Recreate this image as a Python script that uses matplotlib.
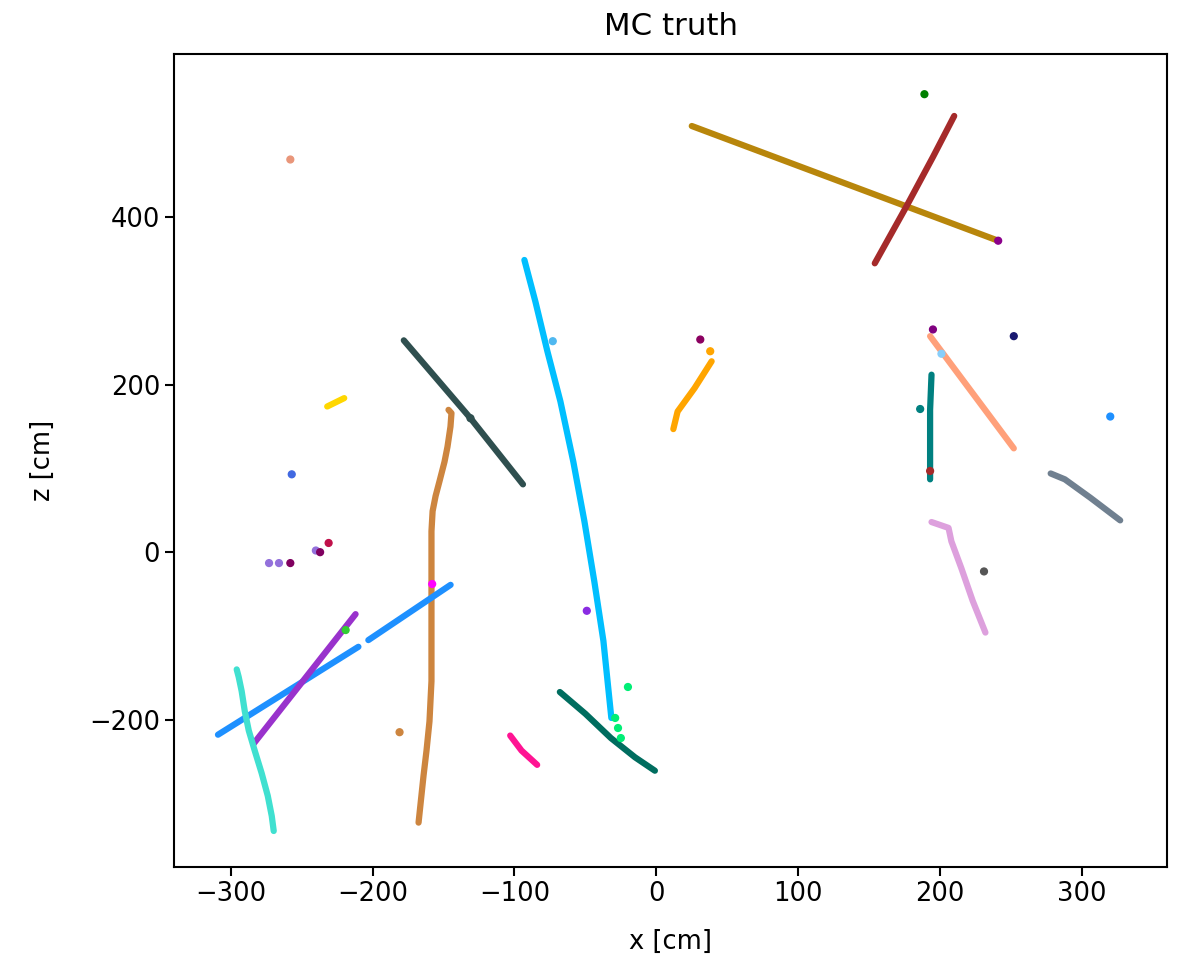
import matplotlib.pyplot as plt

# hit tracks in the x-z plane, one array pair per MC particle
gold_x = [25, 241]
gold_z = [509, 372]
brown_x = [154, 176, 195, 210]
brown_z = [345, 412, 472, 521]
slate_x = [-178, -131, -94]
slate_z = [253, 160, 81]
sky_x = [-93.0, -85.2, -76.8, -67.6, -58.5, -50.7, -43.7, -37.3, -31.7]
sky_z = [349, 299, 240, 180, 108, 37, -35, -106, -198]
peru_x = [-146.5, -144.4, -145.1, -147.2, -149.3, -152.8, -155.6, -157.7,
          -158.5, -158.5, -158.5, -159.9, -162.0, -164.1, -167.6]
peru_z = [170, 166, 150, 126, 108, 85, 67, 49, 25, -58, -154, -202, -237,
          -267, -323]
dodger1_x = [-309, -210]
dodger1_z = [-218, -113]
dodger2_x = [-203, -145]
dodger2_z = [-105, -39]
orchid_x = [-284, -212]
orchid_z = [-229, -74]
turq_x = [-295.8, -294.4, -292.3, -290.1, -287.3, -283.1, -278.2, -273.9,
          -271.1, -269.7]
turq_z = [-140, -149, -166, -190, -213, -237, -264, -291, -315, -333]
pink_x = [-103, -95, -84]
pink_z = [-219, -237, -254]
teal_x = [-68, -50, -32, -15, -1]
teal_z = [-167, -193, -222, -245, -261]
orange_x = [12, 15, 27, 39]
orange_z = [147, 168, 196, 228]
vteal_x = [194, 193, 193, 193]
vteal_z = [212, 170, 120, 87]
salmon_x = [193, 252]
salmon_z = [258, 124]
gray_x = [278, 288, 306, 327]
gray_z = [94, 87, 65, 38]
plum_x = [194, 206, 208, 215, 223, 232]
plum_z = [36, 29, 13, -19, -58, -96]
yellow_x = [-232, -220]
yellow_z = [174, 184]

# isolated hits / short stubs
dot_x = [189, -258, -257, -273, -266, -258, -240, -237, -231, -219, -158,
         -181, -73, -49, -29, -27, -25, -20, 38, 31, 186, 193, 201, 195,
         252, 320, 231, 241, -131]
dot_z = [547, 469, 93, -13, -13, -13, 2, 0, 11, -93, -38,
         -215, 252, -70, -198, -210, -222, -161, 240, 254, 171, 97, 237, 266,
         258, 162, -23, 372, 160]
dot_c = ['#008000', '#e9967a', '#4169e1', '#9370db', '#9370db', '#800060',
         '#9370db', '#800060', '#c0104a', '#32cd32', '#ff00ff',
         '#cd853f', '#4fb8f0', '#8a2be2', '#00ee76', '#00ee76', '#00ee76',
         '#00ee76', '#ffa500', '#8b0060', '#008080', '#a52a2a', '#87cefa',
         '#800080', '#191970', '#1e90ff', '#555555', '#8b008b', '#2f4f4f']

tracks = [
    (gold_x, gold_z, '#b8860b'),
    (brown_x, brown_z, '#a52a2a'),
    (slate_x, slate_z, '#2f4f4f'),
    (sky_x, sky_z, '#00bfff'),
    (peru_x, peru_z, '#cd853f'),
    (dodger1_x, dodger1_z, '#1e90ff'),
    (dodger2_x, dodger2_z, '#1e90ff'),
    (orchid_x, orchid_z, '#9932cc'),
    (turq_x, turq_z, '#40e0d0'),
    (pink_x, pink_z, '#ff1493'),
    (teal_x, teal_z, '#006d5f'),
    (orange_x, orange_z, '#ffa500'),
    (vteal_x, vteal_z, '#008080'),
    (salmon_x, salmon_z, '#ffa07a'),
    (gray_x, gray_z, '#708090'),
    (plum_x, plum_z, '#dda0dd'),
    (yellow_x, yellow_z, '#ffd700'),
]

plt.rcParams['font.size'] = 18.5
plt.rcParams['axes.linewidth'] = 1.5
plt.rcParams['xtick.major.width'] = 1.5
plt.rcParams['ytick.major.width'] = 1.5
plt.rcParams['xtick.major.size'] = 6.5
plt.rcParams['ytick.major.size'] = 6.5

fig = plt.figure(figsize=(11.82, 9.63), dpi=100)
ax = fig.add_axes([174 / 1182, 1 - 867 / 963, 993 / 1182, 813 / 963])

for xs, zs, c in tracks:
    ax.plot(xs, zs, color=c, lw=4.5, solid_capstyle='round',
            solid_joinstyle='round')
ax.scatter(dot_x, dot_z, c=dot_c, s=24, zorder=3)

ax.set_xlim(-340, 360)
ax.set_ylim(-376, 595)
ax.set_xticks([-300, -200, -100, 0, 100, 200, 300])
ax.set_yticks([-200, 0, 200, 400])
ax.set_xlabel('x [cm]', labelpad=16)
ax.set_ylabel('z [cm]', labelpad=24)
ax.set_title('MC truth', pad=14)

plt.savefig('out.png', dpi=100)
